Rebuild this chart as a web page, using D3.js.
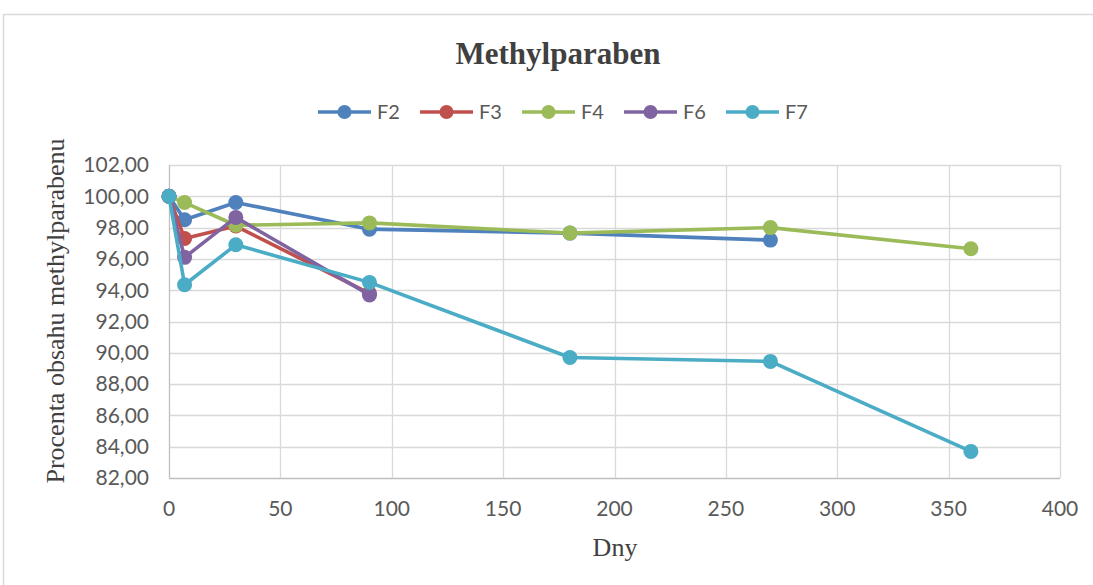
<!DOCTYPE html>
<html>
<head>
<meta charset="utf-8">
<script src="https://cdn.jsdelivr.net/npm/d3@7"></script>
<style>
  body { margin: 0; background: #fff; }
  svg { display: block; }
</style>
</head>
<body>
<div id="chart"></div>
<script>
// data
const days = [0, 7, 30, 90, 180, 270, 360];
const seriesNames = ['F2', 'F3', 'F4', 'F6', 'F7'];
const seriesColors = ['#4F81BD', '#C0504D', '#9BBB59', '#8064A2', '#4BACC6'];
const f2 = [100, 98.5, 99.6, 97.9, 97.65, 97.2, null];
const f3 = [100, 97.3, 98.1, 93.8, null, null, null];
const f4 = [100, 99.6, 98.15, 98.3, 97.65, 98.0, 96.65];
const f6 = [100, 96.1, 98.65, 93.7, null, null, null];
const f7 = [100, 94.35, 96.9, 94.5, 89.7, 89.45, 83.7];
const xTicks = [0, 50, 100, 150, 200, 250, 300, 350, 400];
const yTicks = [82, 84, 86, 88, 90, 92, 94, 96, 98, 100, 102];

const seriesValues = [f2, f3, f4, f6, f7];

const width = 1093;
const height = 585;
const fmt = d => d3.format('.2f')(d).replace('.', ',');

const svg = d3.select('#chart').append('svg')
  .attr('width', width)
  .attr('height', height);

// chart frame
svg.append('rect')
  .attr('x', 3.5).attr('y', 14.5)
  .attr('width', 1100).attr('height', 600)
  .attr('fill', '#fff')
  .attr('stroke', '#d9d9d9')
  .attr('stroke-width', 1.5);

const x = d3.scaleLinear().domain([0, 400]).range([169, 1060]);
const y = d3.scaleLinear().domain([82, 102]).range([478, 165]);

// grid
svg.append('g').selectAll('line.h').data(yTicks).join('line')
  .attr('x1', x(0)).attr('x2', x(400))
  .attr('y1', d => Math.round(y(d)) + 0.5).attr('y2', d => Math.round(y(d)) + 0.5)
  .attr('stroke', d => d === 82 ? '#bfbfbf' : '#d9d9d9')
  .attr('stroke-width', 1.3);

svg.append('g').selectAll('line.v').data(xTicks).join('line')
  .attr('x1', d => Math.round(x(d)) + 0.5).attr('x2', d => Math.round(x(d)) + 0.5)
  .attr('y1', y(102)).attr('y2', y(82))
  .attr('stroke', d => d === 0 ? '#bfbfbf' : '#d9d9d9')
  .attr('stroke-width', 1.3);

// tick labels
const tickFont = 'Lato, "Open Sans", sans-serif';
svg.append('g').selectAll('text').data(yTicks).join('text')
  .attr('x', 149).attr('y', d => y(d))
  .attr('dy', '0.35em')
  .attr('text-anchor', 'end')
  .attr('font-family', tickFont)
  .attr('font-size', 21)
  .attr('fill', '#595959')
  .text(fmt);

svg.append('g').selectAll('text').data(xTicks).join('text')
  .attr('x', d => x(d)).attr('y', 509)
  .attr('dy', '0.35em')
  .attr('text-anchor', 'middle')
  .attr('font-family', tickFont)
  .attr('font-size', 21)
  .attr('fill', '#595959')
  .text(d => d);

// titles
svg.append('text')
  .attr('x', 558).attr('y', 53)
  .attr('dy', '0.35em')
  .attr('text-anchor', 'middle')
  .attr('font-family', '"Liberation Serif", serif')
  .attr('font-weight', 'bold')
  .attr('font-size', 31)
  .attr('fill', '#404040')
  .text('Methylparaben');

svg.append('text')
  .attr('x', 615).attr('y', 547)
  .attr('dy', '0.35em')
  .attr('text-anchor', 'middle')
  .attr('font-family', '"Liberation Serif", serif')
  .attr('font-size', 26)
  .attr('fill', '#404040')
  .text('Dny');

svg.append('text')
  .attr('transform', 'translate(55,311) rotate(-90)')
  .attr('dy', '0.35em')
  .attr('text-anchor', 'middle')
  .attr('font-family', '"Liberation Serif", serif')
  .attr('font-size', 26)
  .attr('fill', '#404040')
  .text('Procenta obsahu methylparabenu');

// series
const line = d3.line()
  .defined(d => d.v !== null)
  .x(d => x(d.t))
  .y(d => y(d.v));

seriesValues.forEach((vals, i) => {
  const pts = days.map((t, j) => ({ t, v: vals[j] }));
  const g = svg.append('g');
  g.append('path')
    .datum(pts)
    .attr('d', line)
    .attr('fill', 'none')
    .attr('stroke', seriesColors[i])
    .attr('stroke-width', 3.6)
    .attr('stroke-linejoin', 'round');
  g.selectAll('circle').data(pts.filter(d => d.v !== null)).join('circle')
    .attr('cx', d => x(d.t))
    .attr('cy', d => y(d.v))
    .attr('r', 7.5)
    .attr('fill', seriesColors[i]);
});

// legend
const legendX = [318, 420, 522, 624, 726];
const legend = svg.append('g');
seriesNames.forEach((name, i) => {
  const lx = legendX[i];
  legend.append('line')
    .attr('x1', lx).attr('x2', lx + 53)
    .attr('y1', 112).attr('y2', 112)
    .attr('stroke', seriesColors[i])
    .attr('stroke-width', 3.6);
  legend.append('circle')
    .attr('cx', lx + 26.5).attr('cy', 112).attr('r', 7)
    .attr('fill', seriesColors[i]);
  legend.append('text')
    .attr('x', lx + 59).attr('y', 112)
    .attr('dy', '0.35em')
    .attr('font-family', tickFont)
    .attr('font-size', 20)
    .attr('fill', '#595959')
    .text(name);
});
</script>
</body>
</html>
